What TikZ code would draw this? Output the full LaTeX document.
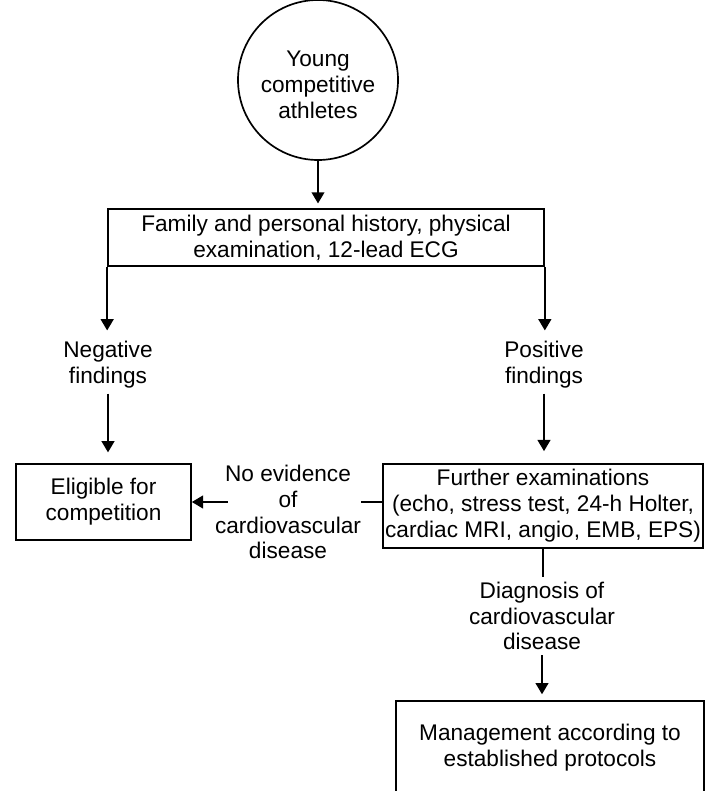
\documentclass[tikz,border=0pt]{standalone}
\usepackage{fontspec}
\setmainfont{Liberation Sans}
\usetikzlibrary{arrows.meta}

\tikzset{
    txt/.style={font=\fontsize{16.1pt}{18.4pt}\selectfont, align=center},
    box/.style={txt, draw, line width=1.2pt, inner sep=0pt},
    lbl/.style={txt, inner sep=0.12cm},
    arrow/.style={line width=1.2pt, -{Triangle[width=0.32cm, length=0.28cm]}},
    link/.style={line width=1.2pt}
}

\begin{document}
\begin{tikzpicture}

    % Fix the page size
    \useasboundingbox (0,0) rectangle (17.75,-19.775);

    % Starting point
    \node[txt, draw, circle, line width=1.2pt, minimum size=4cm, inner sep=0pt, text height=55pt] (athletes) at (7.95,-2.0) {Young\\competitive\\athletes};

    % First screening step
    \node[box, minimum width=10.9cm, minimum height=1.425cm] (history) at (8.15,-5.94) {Family and personal history, physical\\examination, 12-lead ECG};

    % The two outcomes of the screening
    \node[lbl] (negative) at (2.7,-9.125) {Negative\\findings};
    \node[lbl] (positive) at (13.6,-9.125) {Positive\\findings};

    % Eligible and further examination boxes
    \node[box, minimum width=4.375cm, minimum height=1.9cm] (eligible) at (2.5875,-12.55) {Eligible for\\competition};
    \node[box, minimum width=8.0cm, minimum height=2.1cm] (further) at (13.575,-12.65) {Further examinations\\(echo, stress test, 24-h Holter,\\cardiac MRI, angio, EMB, EPS)};

    % Labels on the lower branches
    \node[txt, inner sep=0pt] (noevidence) at (7.2,-12.8) {No evidence\\of\\cardiovascular\\disease};
    \node[lbl] (diagnosis) at (13.55,-15.4) {Diagnosis of\\cardiovascular\\disease};

    % Last box, runs off the bottom edge
    \node[box, minimum width=7.7cm, minimum height=2.325cm] (management) at (13.75,-18.69) {Management according to\\established protocols};

    % Connectors
    \draw[arrow, shorten >=0.12cm] (athletes.south) -- (athletes.south |- history.north);
    \draw[arrow, shorten >=0.15cm] (history.south west) -- (history.south west |- negative.north);
    \draw[arrow, shorten >=0.15cm] (history.south east) -- (history.south east |- positive.north);
    \draw[arrow, shorten >=0.27cm] (negative.south) -- (negative.south |- eligible.north);
    \draw[arrow, shorten >=0.3cm] (positive.south) -- (positive.south |- further.north);
    \draw[link] (further.west |- eligible.east) -- (noevidence.east |- eligible.east);
    \draw[arrow, shorten <=-0.33cm] (noevidence.west |- eligible.east) -- (eligible.east);
    \draw[link] (further.south) -- (further.south |- diagnosis.north);
    \draw[arrow, shorten >=0.15cm] (diagnosis.south) -- (diagnosis.south |- management.north);

\end{tikzpicture}
\end{document}
